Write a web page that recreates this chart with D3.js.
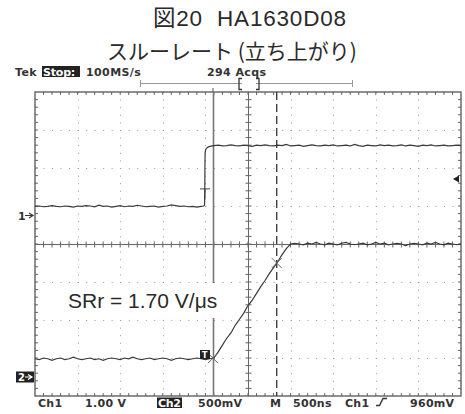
<!DOCTYPE html>
<html><head><meta charset="utf-8">
<script src="https://cdn.jsdelivr.net/npm/d3@7"></script>
<style>body{margin:0;background:#fff}svg{display:block}</style>
</head><body>
<svg id="chart" width="465" height="414"></svg>
<script>
// ---- Acquisition settings ----
const timePerDiv = 500;          // ns / div
const ch1VoltsPerDiv = 1.0;      // V / div
const ch2VoltsPerDiv = 0.5;      // V / div
const ch1OffsetDiv = 0.75;       // Ch1 ground marker, divisions from centre
const ch2OffsetDiv = -3.5;       // Ch2 ground marker, divisions from centre
const triggerLevel = 0.96;       // V on Ch1
const cursorTimes = [-411, 337]; // ns (solid, dashed)
const slewRateLabel = "SRr = 1.70 V/\u03bcs";

// ---- Ch1 (input step), sample times in ns, levels in V ----
const ch1LowVolts = [
  0.24,0.25,0.23,0.24,0.26,0.24,0.23,0.25,0.24,0.22,
  0.25,0.24,0.26,0.25,0.23,0.27,0.24,0.25,0.22,0.24,
  0.26,0.23,0.25,0.24,0.27,0.25,0.23,0.24,0.25,0.22,
  0.24,0.25,0.28,0.26,0.24,0.25,0.23,0.24,0.22,0.24];          // -2500 … -550 ns
const ch1EdgeTime  = [-520, -510, -507, -505, -503, -498, -490, -470, -450];
const ch1EdgeVolts = [0.25, 0.27, 0.70, 1.40, 1.66, 1.72, 1.76, 1.80, 1.82];
const ch1HighVolts = [
  1.84,1.85,1.83,1.84,1.86,1.84,1.83,1.85,1.84,1.82,
  1.85,1.84,1.86,1.84,1.83,1.85,1.84,1.87,1.83,1.84,
  1.85,1.82,1.84,1.86,1.84,1.83,1.85,1.84,1.86,1.83,
  1.84,1.85,1.83,1.87,1.84,1.82,1.85,1.84,1.83,1.86,
  1.84,1.85,1.83,1.84,1.86,1.83,1.85,1.84,1.82,1.85,
  1.84,1.86,1.83,1.84,1.85,1.83,1.84,1.85,1.84];               // -400 … 2500 ns

// ---- Ch2 (output), 50 ns sampling from -2500 to 2500 ns ----
const ch2Volts = [
  0.24,0.23,0.25,0.24,0.22,0.24,0.25,0.23,0.24,0.26,
  0.24,0.23,0.24,0.25,0.23,0.24,0.22,0.24,0.25,0.24,
  0.23,0.25,0.24,0.26,0.24,0.23,0.24,0.25,0.23,0.24,
  0.25,0.24,0.22,0.24,0.25,0.24,0.23,0.24,0.25,0.24,
  0.23,0.24,
  0.25,0.33,0.42,0.51,0.58,0.68,0.76,0.84,0.94,1.01,
  1.10,1.19,1.27,1.36,1.44,1.52,1.61,1.69,1.75,
  1.76,1.75,1.74,1.76,1.75,1.77,1.75,1.74,1.76,1.75,
  1.74,1.76,1.77,1.75,1.74,1.75,1.76,1.74,1.75,1.77,
  1.75,1.76,1.74,1.75,1.76,1.75,1.73,1.75,1.76,1.75,
  1.74,1.76,1.75,1.77,1.75,1.74,1.76,1.75,1.74,1.75];

// ---- Readout texts ----
const headerLabels = ["Tek", "Stop:", "100MS/s", "294 Acqs"];
const footerLabels = ["Ch1", "1.00 V", "Ch2", "500mV", "M", "500ns", "Ch1", "960mV"];
const titleLines = ["\u56f320\u00a0\u00a0HA1630D08", "\u30b9\u30eb\u30fc\u30ec\u30fc\u30c8 (\u7acb\u3061\u4e0a\u304c\u308a)"];

// ---- Layout ----
const svg = d3.select("#chart");
const plot = {left: 35, right: 461, top: 92, bottom: 396};
const nx = 10, ny = 8, minor = 5;

const x = d3.scaleLinear().domain([-nx / 2 * timePerDiv, nx / 2 * timePerDiv]).range([plot.left, plot.right]);
const yDiv = d3.scaleLinear().domain([-ny / 2, ny / 2]).range([plot.bottom, plot.top]);
const y1 = v => yDiv(v / ch1VoltsPerDiv + ch1OffsetDiv);
const y2 = v => yDiv(v / ch2VoltsPerDiv + ch2OffsetDiv);

const sansJP = "'Liberation Sans', Arial, 'Noto Sans CJK JP', sans-serif";
const scopeFont = "'DejaVu Sans', Verdana, sans-serif";
const ink = "#2a2a2a";

// Title
svg.append("text").attr("x", 153).attr("y", 26).attr("font-family", sansJP)
  .attr("font-size", 22.5).attr("letter-spacing", 0.8).attr("fill", ink).text(titleLines[0]);
svg.append("text").attr("x", 107).attr("y", 59).attr("font-family", "'Noto Sans CJK JP', sans-serif")
  .attr("font-size", 21).attr("fill", ink).text(titleLines[1]);

// Header readout
const hdr = svg.append("g").attr("font-family", scopeFont).attr("font-weight", "bold")
  .attr("font-size", 11).attr("letter-spacing", 0.4).attr("fill", "#333");
hdr.append("text").attr("x", 15).attr("y", 75.5).text(headerLabels[0]);
hdr.append("rect").attr("x", 42).attr("y", 66).attr("width", 38).attr("height", 11).attr("fill", "#222");
hdr.append("text").attr("x", 43).attr("y", 75.5).attr("fill", "#fff").attr("letter-spacing", -0.2).text(headerLabels[1]);
hdr.append("text").attr("x", 86).attr("y", 75.5).text(headerLabels[2]);
hdr.append("text").attr("x", 207).attr("y", 75.5).text(headerLabels[3]);

// Record-position bar
const bar = svg.append("g").attr("stroke", "#999").attr("fill", "none").attr("stroke-width", 1);
bar.append("line").attr("x1", 140).attr("x2", 353).attr("y1", 83.5).attr("y2", 83.5);
bar.append("line").attr("x1", 140.5).attr("x2", 140.5).attr("y1", 80).attr("y2", 87);
bar.append("line").attr("x1", 352.5).attr("x2", 352.5).attr("y1", 80).attr("y2", 87);
const brk = svg.append("g").attr("stroke", "#333").attr("fill", "none").attr("stroke-width", 1.3);
brk.append("path").attr("d", "M242,78.5 H239 V89.5 H242");
brk.append("path").attr("d", "M256,78.5 H259 V89.5 H256");
svg.append("rect").attr("x", 242).attr("y", 79).attr("width", 14).attr("height", 10).attr("fill", "#fff");
brk.append("path").attr("d", `M244,81 H${x(0) + 3} M${x(0) - 0.5},81 V89`).attr("stroke-width", 1);
brk.append("path").attr("d", "M249,80 V87").attr("stroke-width", 0.8).attr("stroke", "#888");

// Dotted graticule
const grid = svg.append("g").attr("stroke", "#9a9a9a").attr("stroke-width", 1);
const dx = x(timePerDiv) - x(0), dy = yDiv(0) - yDiv(1);
for (let i = 1; i < nx; i++) {
  if (i === nx / 2) continue;
  const gx = Math.round(x((i - nx / 2) * timePerDiv)) + 0.5;
  grid.append("line").attr("x1", gx).attr("x2", gx).attr("y1", plot.top).attr("y2", plot.bottom)
    .attr("stroke-dasharray", `1 ${dy / minor - 1}`);
}
for (let j = 1; j < ny; j++) {
  if (j === ny / 2) continue;
  const gy = Math.round(yDiv(j - ny / 2)) + 0.5;
  grid.append("line").attr("x1", plot.left).attr("x2", plot.right).attr("y1", gy).attr("y2", gy)
    .attr("stroke-dasharray", `1 ${dx / minor - 1}`);
}

// Centre axes with minor ticks
const axes = svg.append("g").attr("stroke", "#666").attr("stroke-width", 1);
const cx = Math.round(x(0)) + 0.5, cy = Math.round(yDiv(0)) + 0.5;
axes.append("line").attr("x1", cx).attr("x2", cx).attr("y1", plot.top).attr("y2", plot.bottom);
axes.append("line").attr("x1", plot.left).attr("x2", plot.right).attr("y1", cy).attr("y2", cy);
for (let k = 1; k < nx * minor; k++) {
  const tx = x(-nx / 2 * timePerDiv + k * timePerDiv / minor);
  axes.append("line").attr("x1", tx).attr("x2", tx).attr("y1", cy - 3).attr("y2", cy + 3);
  axes.append("line").attr("x1", tx).attr("x2", tx).attr("y1", plot.top).attr("y2", plot.top + 3);
  axes.append("line").attr("x1", tx).attr("x2", tx).attr("y1", plot.bottom - 3).attr("y2", plot.bottom);
}
for (let k = 1; k < ny * minor; k++) {
  const ty = yDiv(-ny / 2 + k / minor);
  axes.append("line").attr("x1", cx - 3).attr("x2", cx + 3).attr("y1", ty).attr("y2", ty);
  axes.append("line").attr("x1", plot.left).attr("x2", plot.left + 3).attr("y1", ty).attr("y2", ty);
  axes.append("line").attr("x1", plot.right - 3).attr("x2", plot.right).attr("y1", ty).attr("y2", ty);
}
svg.append("rect").attr("x", plot.left).attr("y", plot.top)
  .attr("width", plot.right - plot.left).attr("height", plot.bottom - plot.top)
  .attr("fill", "none").attr("stroke", "#555").attr("stroke-width", 1.3);

// Cursors
svg.append("line").attr("x1", Math.round(x(cursorTimes[0])) + 0.5).attr("x2", Math.round(x(cursorTimes[0])) + 0.5)
  .attr("y1", plot.top).attr("y2", plot.bottom).attr("stroke", "#777").attr("stroke-width", 1.6);
svg.append("line").attr("x1", x(cursorTimes[1])).attr("x2", x(cursorTimes[1]))
  .attr("y1", plot.top).attr("y2", plot.bottom).attr("stroke", "#333").attr("stroke-width", 1.3)
  .attr("stroke-dasharray", "8 4");
svg.append("line").attr("x1", x(cursorTimes[0])).attr("x2", x(cursorTimes[0]))
  .attr("y1", plot.top - 4).attr("y2", plot.top).attr("stroke", "#555");

// Slew-rate annotation on a white box
svg.append("rect").attr("x", 67).attr("y", 283).attr("width", 161).attr("height", 35).attr("fill", "#fff");
svg.append("text").attr("x", 68).attr("y", 308).attr("font-family", "'Liberation Sans', Arial, sans-serif")
  .attr("font-size", 21).attr("fill", ink).text(slewRateLabel);

// Traces
const ch1Time = [].concat(
  ch1LowVolts.map((_, i) => -2500 + i * 50), ch1EdgeTime, ch1HighVolts.map((_, i) => -400 + i * 50));
const ch1Data = ch1Time.map((t, i) => [t, ch1LowVolts.concat(ch1EdgeVolts, ch1HighVolts)[i]]);
const ch2Data = ch2Volts.map((v, i) => [-2500 + i * 50, v]);

svg.append("path").datum(ch1Data)
  .attr("d", d3.line().x(d => x(d[0])).y(d => y1(d[1])))
  .attr("fill", "none").attr("stroke", "#3a3a3a").attr("stroke-width", 1.2);
svg.append("path").datum(ch2Data)
  .attr("d", d3.line().x(d => x(d[0])).y(d => y2(d[1])))
  .attr("fill", "none").attr("stroke", "#3a3a3a").attr("stroke-width", 1.2);

// Cursor crossing marks on Ch2
const interp = t => {
  const i = d3.bisector(d => d[0]).left(ch2Data, t);
  const a = ch2Data[i - 1], b = ch2Data[i];
  return a[1] + (b[1] - a[1]) * (t - a[0]) / (b[0] - a[0]);
};
cursorTimes.forEach(t => {
  const px = x(t), py = y2(interp(t));
  svg.append("path").attr("d", `M${px - 5},${py - 5}L${px + 5},${py + 5}M${px - 5},${py + 5}L${px + 5},${py - 5}`)
    .attr("stroke", "#666").attr("stroke-width", 1);
});

// Ch1 trigger point tick
const tp = x(-505);
svg.append("path").attr("d", `M${tp - 5},${y1(0.70)}H${tp + 5}M${tp},${y1(0.70)}V${y1(0.45)}`)
  .attr("stroke", "#444").attr("stroke-width", 1);

// Ch2 trigger box
svg.append("rect").attr("x", 200).attr("y", 350).attr("width", 10).attr("height", 9).attr("fill", "#222");
svg.append("text").attr("x", 202).attr("y", 358).attr("font-family", scopeFont).attr("font-weight", "bold")
  .attr("font-size", 8).attr("fill", "#fff").text("T");

// Trigger level arrow on right edge
const ty = y1(triggerLevel);
svg.append("path").attr("d", `M${plot.right - 8},${ty}L${plot.right - 2},${ty - 3.5}L${plot.right - 2},${ty + 3.5}Z`)
  .attr("fill", "#222");

// Channel ground markers
const m1 = y1(0), m2 = y2(0);
svg.append("text").attr("x", 18).attr("y", m1 + 4).attr("font-family", scopeFont).attr("font-weight", "bold")
  .attr("font-size", 11).attr("fill", "#333").text("1");
svg.append("path").attr("d", `M25,${m1}H32M29,${m1 - 2.5}L33,${m1}L29,${m1 + 2.5}`)
  .attr("stroke", "#333").attr("fill", "none").attr("stroke-width", 1.2);
svg.append("rect").attr("x", 16).attr("y", m2 - 5.5).attr("width", 18).attr("height", 11).attr("fill", "#222");
svg.append("text").attr("x", 18).attr("y", m2 + 4).attr("font-family", scopeFont).attr("font-weight", "bold")
  .attr("font-size", 10).attr("fill", "#fff").text("2");
svg.append("path").attr("d", `M25,${m2}H31M28,${m2 - 2.5}L32,${m2}L28,${m2 + 2.5}`)
  .attr("stroke", "#fff").attr("fill", "none").attr("stroke-width", 1.2);

// Footer readout
const ftr = svg.append("g").attr("font-family", scopeFont).attr("font-weight", "bold")
  .attr("font-size", 11).attr("letter-spacing", 0.3).attr("fill", "#333");
const footerX = [38, 85, 158, 198, 270, 293, 345, 410];
footerLabels.forEach((s, i) => {
  if (i === 2) {
    ftr.append("rect").attr("x", 157).attr("y", 397.5).attr("width", 25).attr("height", 10.5).attr("fill", "#222");
    ftr.append("text").attr("x", footerX[i]).attr("y", 406.5).attr("fill", "#fff").attr("letter-spacing", -0.3).text(s);
  } else {
    ftr.append("text").attr("x", footerX[i]).attr("y", 406.5).text(s);
  }
});
// rising-edge slope symbol
svg.append("path").attr("d", "M376,405.5H379.5L383,398.5H387")
  .attr("stroke", "#333").attr("fill", "none").attr("stroke-width", 1.4);
</script>
</body></html>
